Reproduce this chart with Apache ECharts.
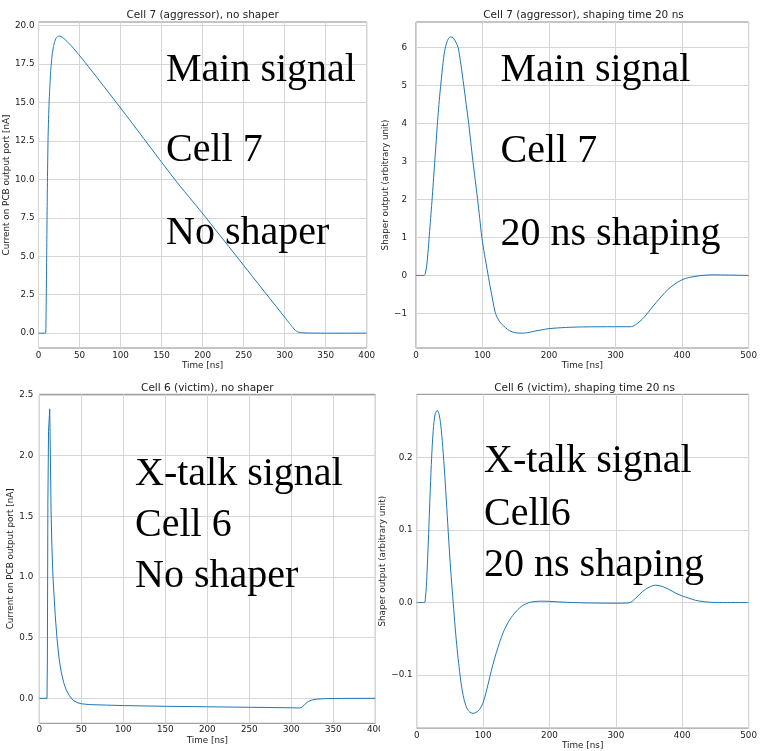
<!DOCTYPE html>
<html><head><meta charset="utf-8">
<script src="https://cdn.jsdelivr.net/npm/echarts@6/dist/echarts.min.js"></script>
<style>html,body{margin:0;padding:0;background:#fff}#c{width:760px;height:751px}</style>
</head><body><div id="c"></div><script>
// ---- Data ----
const titles = ['Cell 7 (aggressor), no shaper', 'Cell 7 (aggressor), shaping time 20 ns', 'Cell 6 (victim), no shaper', 'Cell 6 (victim), shaping time 20 ns'];
const yNames = ['Current on PCB output port [nA]', 'Shaper output (arbitrary unit)', 'Current on PCB output port [nA]', 'Shaper output (arbitrary unit)'];
const xName = 'Time [ns]';
const notes1 = ['Main signal', 'Cell 7', 'No shaper'];
const notes2 = ['Main signal', 'Cell 7', '20 ns shaping'];
const notes3 = ['X-talk signal', 'Cell 6', 'No shaper'];
const notes4 = ['X-talk signal', 'Cell6', '20 ns shaping'];

const t1 = [0, 8.5, 9.2, 10, 10.8, 11.7, 12.9, 13.9, 14.9, 15.9, 16.9, 18.3, 19.7, 21.3, 23, 25.8, 29, 33, 41, 57, 100, 166.5, 199, 250, 300, 306, 310, 313, 316, 320, 330, 350, 400];
const v1 = [0, 0, 1.2, 5.2, 9.5, 12.8, 15.0, 16.1, 17.1, 17.7, 18.2, 18.65, 18.96, 19.18, 19.28, 19.33, 19.25, 19.07, 18.63, 17.6, 14.65, 9.97, 7.85, 4.41, 1.04, 0.63, 0.36, 0.18, 0.08, 0.03, 0.01, 0.0, 0.0];

const t2 = [0, 12, 14, 16, 18, 20, 22, 24, 26, 28, 30, 32, 34, 36, 38, 40, 43, 46, 49, 52, 56, 60, 63.3, 67.5, 71.8, 75.5, 79.2, 82.4, 85.6, 89.1, 92.6, 95.8, 99, 103, 107, 111, 115, 119.5, 125, 130, 140, 150, 160, 170, 180, 190, 200, 225, 250, 300, 322, 330, 343, 355, 368, 380, 393, 405, 418, 430, 445, 470, 500];
const v2 = [0, 0, 0.05, 0.25, 0.6, 1.05, 1.5, 1.95, 2.45, 2.95, 3.45, 3.95, 4.4, 4.8, 5.15, 5.5, 5.9, 6.12, 6.24, 6.28, 6.25, 6.14, 6.0, 5.55, 5.0, 4.5, 4.0, 3.5, 3.0, 2.5, 2.0, 1.5, 1.0, 0.55, 0.15, -0.25, -0.62, -1.0, -1.2, -1.3, -1.45, -1.51, -1.52, -1.5, -1.46, -1.43, -1.4, -1.37, -1.355, -1.35, -1.35, -1.3, -1.1, -0.84, -0.57, -0.35, -0.18, -0.08, -0.03, 0.0, 0.015, 0.01, 0.0];

const t3 = [0, 9.2, 9.6, 10.2, 11, 12.4, 13.2, 14, 15, 16.3, 17.5, 19, 21, 23.5, 26, 29, 32, 36, 40, 45, 50, 60, 80, 100, 150, 200, 250, 300, 310, 313, 316, 320, 325, 330, 340, 360, 400];
const v3 = [0, 0, 0.3, 1.6, 2.2, 2.385, 2.0, 1.55, 1.25, 1.0, 0.85, 0.68, 0.5, 0.33, 0.22, 0.13, 0.07, 0.02, -0.015, -0.035, -0.045, -0.052, -0.056, -0.06, -0.066, -0.07, -0.074, -0.078, -0.08, -0.072, -0.05, -0.027, -0.013, -0.007, -0.003, -0.001, 0];

const t4 = [0, 11.5, 13, 14.5, 16, 18, 20, 22, 24, 26, 28, 31, 34, 37, 40, 43, 46, 49, 52, 55, 58, 61, 64, 67, 70, 74, 78, 82, 85, 90, 95, 100, 105, 110, 115, 120, 130, 140, 150, 160, 170, 180, 190, 200, 220, 250, 300, 320, 330, 340, 350, 360, 370, 380, 390, 400, 410, 420, 430, 440, 450, 500];
const v4 = [0, 0, 0.005, 0.022, 0.05, 0.095, 0.145, 0.19, 0.225, 0.248, 0.26, 0.2645, 0.258, 0.238, 0.205, 0.165, 0.12, 0.075, 0.035, 0.0, -0.035, -0.065, -0.09, -0.112, -0.128, -0.142, -0.149, -0.152, -0.1527, -0.151, -0.147, -0.138, -0.122, -0.103, -0.085, -0.069, -0.042, -0.024, -0.012, -0.004, 0.0, 0.0015, 0.0018, 0.0015, 0.0005, -0.0005, -0.001, -0.0005, 0.006, 0.015, 0.021, 0.0238, 0.022, 0.018, 0.013, 0.009, 0.006, 0.003, 0.0015, 0.0005, 0, 0];

const yTicks1 = [0, 2.5, 5, 7.5, 10, 12.5, 15, 17.5, 20];
const yTicks2 = [-1, 0, 1, 2, 3, 4, 5, 6];
const yTicks3 = [0, 0.5, 1, 1.5, 2, 2.5];
const yTicks4 = [-0.1, 0, 0.1, 0.2];
const yDec = [1, 0, 1, 1];
const yRanges = [[-0.965, 20.24], [-1.91, 6.67], [-0.206, 2.505], [-0.173, 0.2867]];
const xMax = [400, 500, 400, 500];
const xStep = [50, 100, 50, 100];

// ---- Layout ----
const L = [
  {left: 38.5, top: 22, width: 328.2, height: 326, yLabM: 4, yGap: 25, xGap: 12, xLabM: 3},
  {left: 416, top: 22, width: 335, height: 326, yLabM: 9, yGap: 15, xGap: 12, xLabM: 3},
  {left: 39.3, top: 394.3, width: 336, height: 329, yLabM: 6, yGap: 23, xGap: 13, xLabM: 2},
  {left: 416.7, top: 394.3, width: 335.6, height: 334, yLabM: 4, yGap: 26, xGap: 12, xLabM: 3}
];
const smoothing = [0.2, 0.3, 0, 0.3];
const titleY = [10, 10, 382.5, 382.5];
const noteX = [166, 500.5, 135, 484];
const noteBase = [[81, 161.5, 244.5], [81.7, 162.5, 245.5], [485.7, 536.7, 587.7], [472.7, 525, 576]];
const noteShift = 9;

const TS = [t1, t2, t3, t4], VS = [v1, v2, v3, v4];
const YT = [yTicks1, yTicks2, yTicks3, yTicks4];
const NOTES = [notes1, notes2, notes3, notes4];
const FONT = 'DejaVu Sans';
const fmt = (d) => (v) => (v < 0 ? '\u2212' : '') + Math.abs(v).toFixed(d);

const grid = [], xAxis = [], yAxis = [], series = [], title = [], graphic = [];
for (let i = 0; i < 4; i++) {
  const g = L[i];
  grid.push({left: g.left, top: g.top, width: g.width, height: g.height, show: true, borderColor: '#8a8a8a', borderWidth: 1, backgroundColor: '#fff', containLabel: false});
  xAxis.push({type: 'value', gridIndex: i, min: 0, max: xMax[i], interval: xStep[i],
    name: xName, nameLocation: 'middle', nameGap: g.xGap,
    nameTextStyle: {fontFamily: FONT, fontSize: 8.8, color: '#222'},
    axisLine: {show: false}, axisTick: {show: false},
    axisLabel: {fontFamily: FONT, fontSize: 8.8, color: '#222', margin: g.xLabM, showMinLabel: true, showMaxLabel: true},
    splitLine: {show: true, lineStyle: {color: '#d6d6d6', width: 1}}});
  yAxis.push({type: 'value', gridIndex: i, min: yRanges[i][0], max: yRanges[i][1],
    name: yNames[i], nameLocation: 'middle', nameGap: g.yGap, nameRotate: 90,
    nameTextStyle: {fontFamily: FONT, fontSize: 8.8, color: '#222'},
    axisLine: {show: false},
    axisTick: {show: false, customValues: YT[i]},
    axisLabel: {fontFamily: FONT, fontSize: 8.8, color: '#222', margin: g.yLabM, customValues: YT[i], formatter: fmt(yDec[i])},
    splitLine: {show: true, lineStyle: {color: '#d6d6d6', width: 1}}});
  series.push({type: 'line', xAxisIndex: i, yAxisIndex: i, showSymbol: false, symbol: 'none',
    smooth: smoothing[i] || false,
    lineStyle: {color: '#1f77b4', width: 1}, animation: false,
    data: TS[i].map((t, k) => [t, VS[i][k]])});
  title.push({text: titles[i], left: g.left + g.width / 2, top: titleY[i], textAlign: 'center', padding: 0,
    textStyle: {fontFamily: FONT, fontSize: 10.5, fontWeight: 'normal', color: '#222'}});
  NOTES[i].forEach((s, k) => {
    graphic.push({type: 'text', x: noteX[i], y: noteBase[i][k] + noteShift, z: 100,
      style: {text: s, font: '40px "Liberation Serif"', fill: '#000', textAlign: 'left', textVerticalAlign: 'bottom', align: 'left', verticalAlign: 'bottom'}});
  });
}
// crop of the bottom-left panel at the picture's seam
graphic.push({type: 'rect', shape: {x: 380, y: 724.5, width: 8, height: 16}, style: {fill: '#fff'}, z: 100});

const chart = echarts.init(document.getElementById('c'), null, {renderer: 'canvas'});
chart.setOption({animation: false, backgroundColor: '#fff', title, grid, xAxis, yAxis, series, graphic});
</script></body></html>
